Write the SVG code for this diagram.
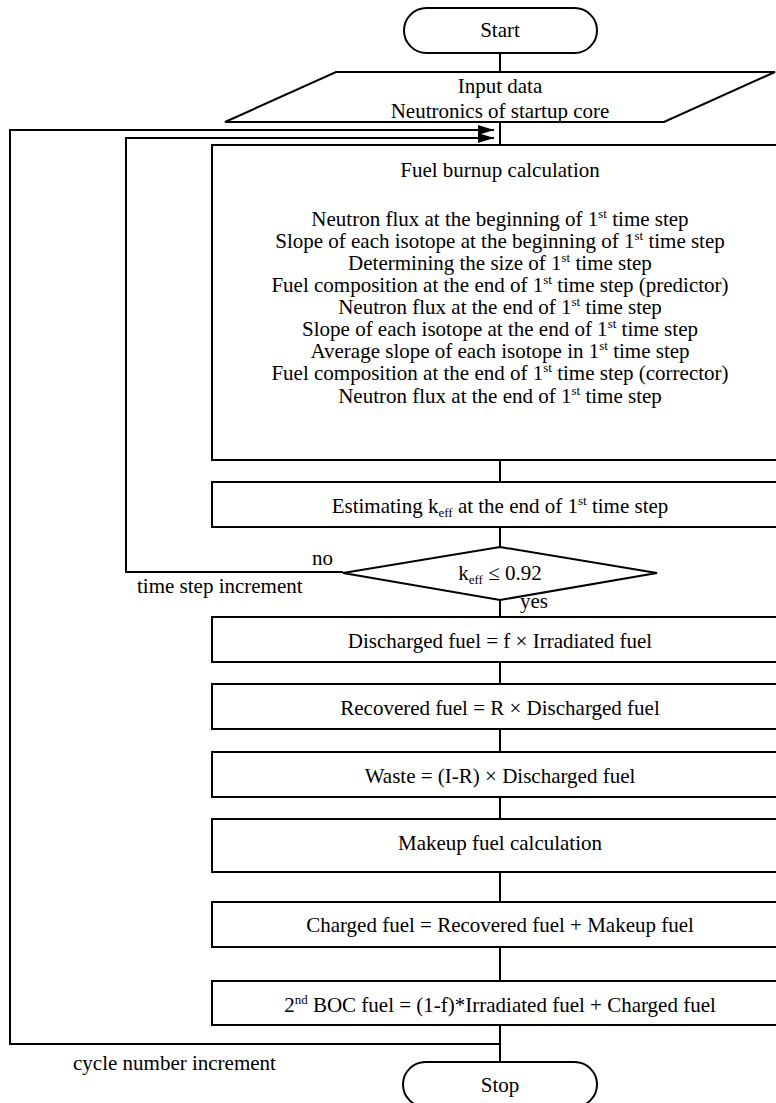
<svg xmlns="http://www.w3.org/2000/svg" width="776" height="1103" viewBox="0 0 776 1103">
<style>
.s{fill:#fff;stroke:#000;stroke-width:2}
.l{fill:none;stroke:#000;stroke-width:2}
text{font-family:"Liberation Serif","Times New Roman",serif;font-size:21px;fill:#000}
.c{text-anchor:middle}
.sm{font-size:13px}
</style>
<defs>
<marker id="ah" markerUnits="userSpaceOnUse" markerWidth="17" markerHeight="10" refX="16" refY="5" orient="auto">
<path d="M0,0 L16,5 L0,10 z" fill="#000"/>
</marker>
</defs>
<g id="connectors">
<line class="l" x1="500" y1="53" x2="500" y2="72"/>
<line class="l" x1="500" y1="122" x2="500" y2="145"/>
<line class="l" x1="500" y1="460" x2="500" y2="482"/>
<line class="l" x1="500" y1="527" x2="500" y2="547"/>
<line class="l" x1="500" y1="600" x2="500" y2="617"/>
<line class="l" x1="500" y1="662" x2="500" y2="684"/>
<line class="l" x1="500" y1="729" x2="500" y2="752"/>
<line class="l" x1="500" y1="797" x2="500" y2="819"/>
<line class="l" x1="500" y1="872" x2="500" y2="902"/>
<line class="l" x1="500" y1="947" x2="500" y2="981"/>
<line class="l" x1="500" y1="1025" x2="500" y2="1062"/>
<polyline class="l" points="343,572 126,572 126,138 494,138" marker-end="url(#ah)"/>
<polyline class="l" points="500,1044 10,1044 10,130 494,130" marker-end="url(#ah)"/>
<text x="312" y="565">no</text>
<text x="137" y="593">time step increment</text>
<text x="520" y="608">yes</text>
<text x="73" y="1070">cycle number increment</text>
</g>
<g id="start">
<rect class="s" x="404" y="8" width="193" height="45" rx="22.5"/>
<text class="c" x="500" y="37">Start</text>
</g>
<g id="input">
<polygon class="s" points="336,72 775,72 664,122 225,122"/>
<text class="c" x="500" y="93">Input data</text>
<text class="c" x="500" y="118">Neutronics of startup core</text>
</g>
<g id="burnup">
<rect class="s" x="212" y="145" width="576" height="315"/>
<text class="c" x="500" y="177">Fuel burnup calculation</text>
<text class="c" x="500" y="226">Neutron flux at the beginning of 1<tspan class="sm" dy="-8">st</tspan><tspan dy="8"> time step</tspan></text>
<text class="c" x="500" y="248">Slope of each isotope at the beginning of 1<tspan class="sm" dy="-8">st</tspan><tspan dy="8"> time step</tspan></text>
<text class="c" x="500" y="270">Determining the size of 1<tspan class="sm" dy="-8">st</tspan><tspan dy="8"> time step</tspan></text>
<text class="c" x="500" y="292">Fuel composition at the end of 1<tspan class="sm" dy="-8">st</tspan><tspan dy="8"> time step (predictor)</tspan></text>
<text class="c" x="500" y="314">Neutron flux at the end of 1<tspan class="sm" dy="-8">st</tspan><tspan dy="8"> time step</tspan></text>
<text class="c" x="500" y="336">Slope of each isotope at the end of 1<tspan class="sm" dy="-8">st</tspan><tspan dy="8"> time step</tspan></text>
<text class="c" x="500" y="358">Average slope of each isotope in 1<tspan class="sm" dy="-8">st</tspan><tspan dy="8"> time step</tspan></text>
<text class="c" x="500" y="380">Fuel composition at the end of 1<tspan class="sm" dy="-8">st</tspan><tspan dy="8"> time step (corrector)</tspan></text>
<text class="c" x="500" y="403">Neutron flux at the end of 1<tspan class="sm" dy="-8">st</tspan><tspan dy="8"> time step</tspan></text>
</g>
<g id="estimate">
<rect class="s" x="212" y="482" width="576" height="45"/>
<text class="c" x="500" y="513">Estimating k<tspan class="sm" dy="4">eff</tspan><tspan dy="-4"> at the end of 1</tspan><tspan class="sm" dy="-8">st</tspan><tspan dy="8"> time step</tspan></text>
</g>
<g id="decision">
<polygon class="s" points="500,547 657,573 500,600 343,573"/>
<text class="c" x="500" y="580">k<tspan class="sm" dy="4">eff</tspan><tspan dy="-4"> ≤ 0.92</tspan></text>
</g>
<g id="discharged">
<rect class="s" x="212" y="617" width="576" height="45"/>
<text class="c" x="500" y="648">Discharged fuel = f × Irradiated fuel</text>
</g>
<g id="recovered">
<rect class="s" x="212" y="684" width="576" height="45"/>
<text class="c" x="500" y="715">Recovered fuel = R × Discharged fuel</text>
</g>
<g id="waste">
<rect class="s" x="212" y="752" width="576" height="45"/>
<text class="c" x="500" y="783">Waste = (I-R) × Discharged fuel</text>
</g>
<g id="makeup">
<rect class="s" x="212" y="819" width="576" height="53"/>
<text class="c" x="500" y="850">Makeup fuel calculation</text>
</g>
<g id="charged">
<rect class="s" x="212" y="902" width="576" height="45"/>
<text class="c" x="500" y="932">Charged fuel = Recovered fuel + Makeup fuel</text>
</g>
<g id="boc">
<rect class="s" x="212" y="981" width="576" height="44"/>
<text class="c" x="500" y="1012">2<tspan class="sm" dy="-8">nd</tspan><tspan dy="8"> BOC fuel = (1-f)*Irradiated fuel + Charged fuel</tspan></text>
</g>
<g id="stop">
<rect class="s" x="403" y="1062" width="194" height="45" rx="22.5"/>
<text class="c" x="500" y="1092">Stop</text>
</g>
</svg>
